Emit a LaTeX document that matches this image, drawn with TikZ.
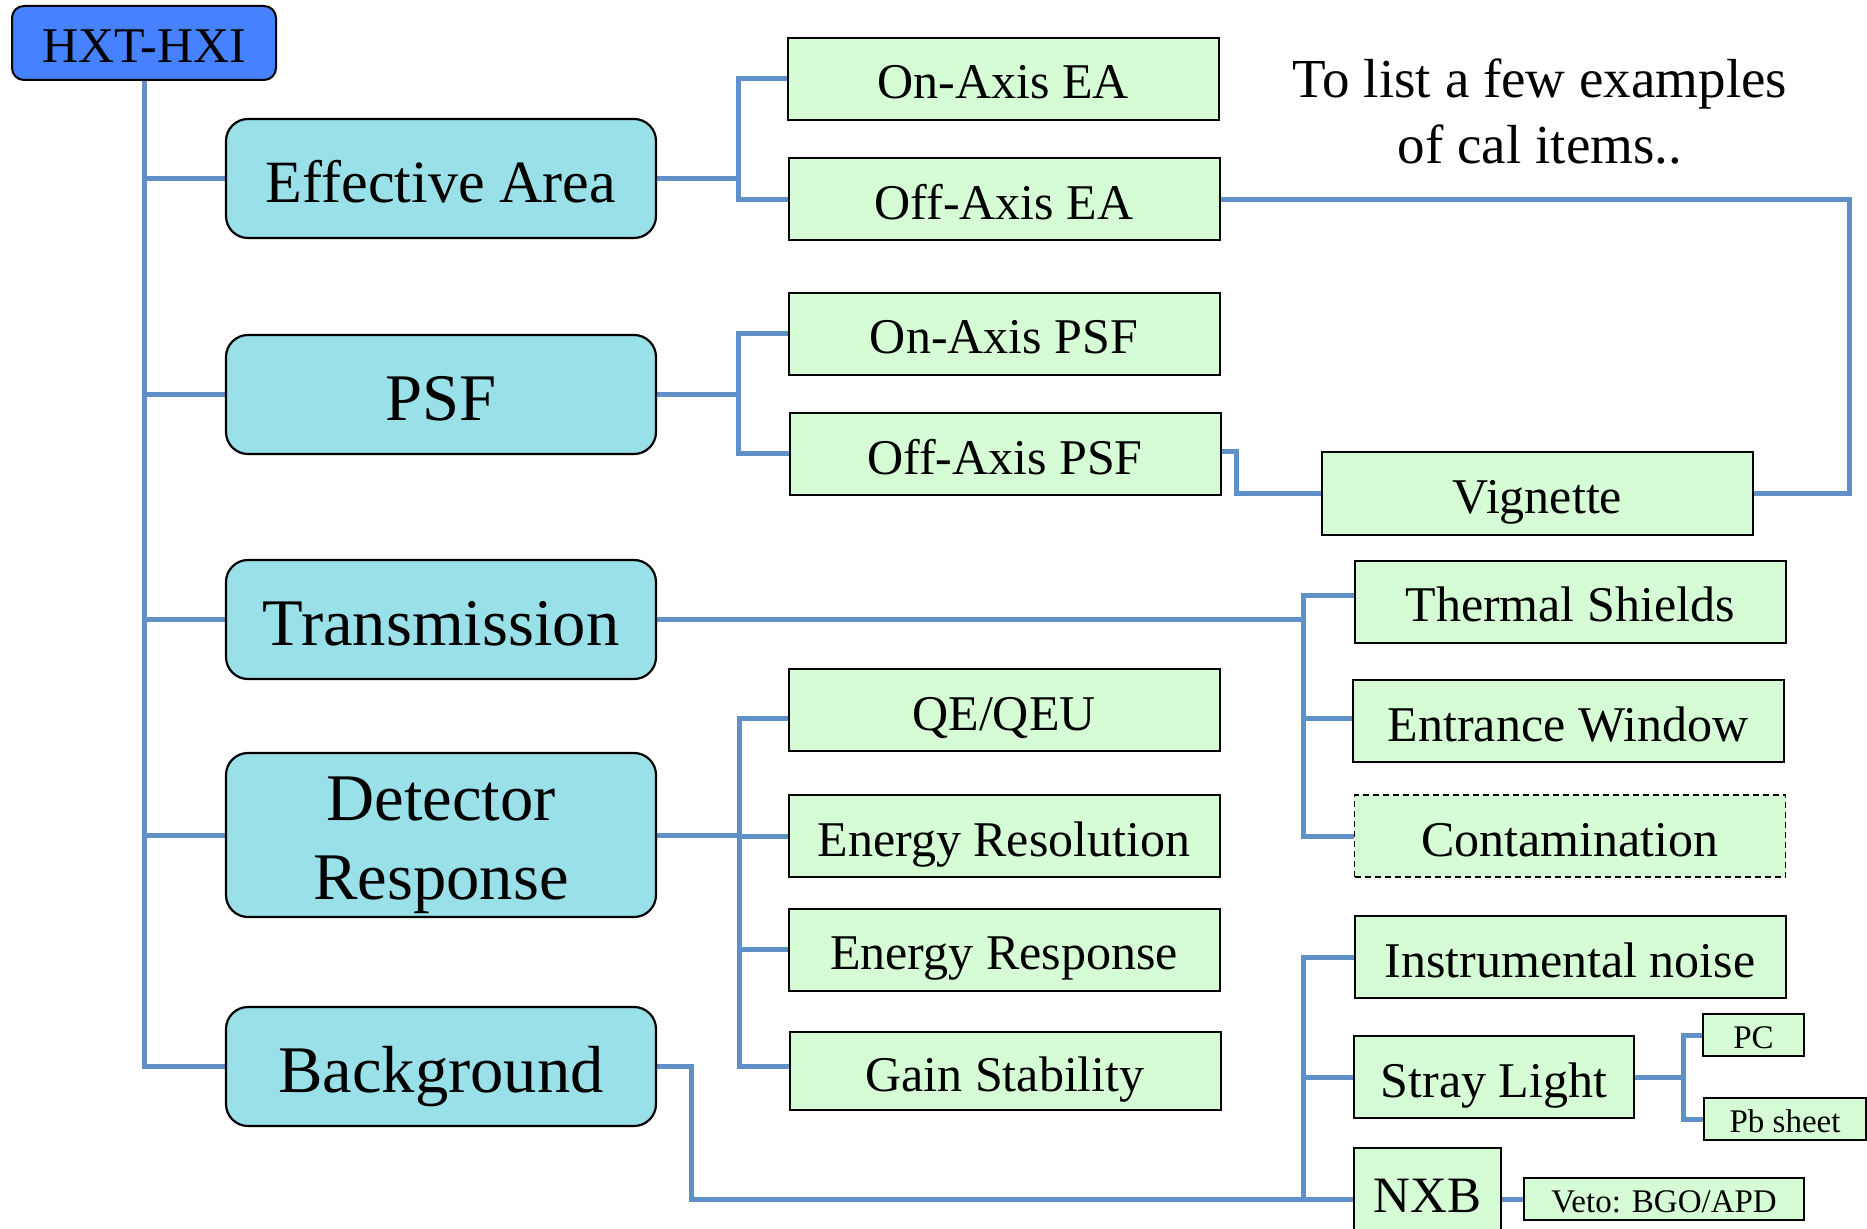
\documentclass[tikz,border=0pt]{standalone}
\usepackage{fontspec}
\setmainfont{Liberation Serif}
\usetikzlibrary{backgrounds}
\definecolor{cyanfill}{RGB}{153,224,232}
\definecolor{greenfill}{RGB}{213,252,213}
\definecolor{hxtblue}{RGB}{70,130,255}
\definecolor{linecol}{RGB}{95,145,200}
\tikzset{
  topbox/.style={draw, fill=hxtblue, rounded corners=6pt, line width=1pt, inner sep=0pt,
    minimum width=132pt, minimum height=37pt, font=\fontsize{25}{29}\selectfont,
    text height=21pt, text depth=1.2pt},
  lonebox/.style={draw, fill=cyanfill, rounded corners=11pt, line width=1.1pt, inner sep=0pt,
    minimum width=215pt, minimum height=59.5pt, font=\fontsize{33.3}{39.5}\selectfont, align=center},
  lonefix/.style={text height=28pt, text depth=1.6pt},
  ltwobox/.style={draw, fill=greenfill, line width=1pt, inner sep=0pt,
    minimum width=215.5pt, minimum height=41pt, font=\fontsize{25}{30}\selectfont,
    text height=21.2pt, text depth=1.2pt},
  smallbox/.style={draw, fill=greenfill, line width=0.9pt, inner sep=0pt,
    minimum height=21pt, font=\fontsize{16.5}{20}\selectfont,
    text height=14pt, text depth=0.8pt},
  conn/.style={draw=linecol, line width=2.5pt},
  notetext/.style={font=\fontsize{27.5}{33}\selectfont, inner sep=0pt, anchor=base}
}
\begin{document}
\begin{tikzpicture}[x=0.5pt,y=-0.5pt]
\useasboundingbox (0,0) rectangle (1867,1229);
\clip (0,0) rectangle (1867,1229);

% top
\node[topbox] (hxt) at (144,43) {HXT-HXI};

% level 1
\node[lonebox,lonefix,font=\fontsize{30}{36}\selectfont,text height=25.3pt,text depth=1.5pt] (ea) at (441,178.5) {Effective Area};
\node[lonebox,lonefix] (psf) at (441,394.5) {PSF};
\node[lonebox,lonefix] (trans) at (441,619.5) {Transmission};
\node[lonebox,minimum height=82pt] (det) at (441,835) {};
\node[inner sep=0pt, font=\fontsize{33.3}{39.5}\selectfont, align=center] (dettext) at ([yshift=-5pt]det.center) {Detector\\Response};
\node[lonebox,lonefix] (bg) at (441,1066.5) {Background};

% level 2
\node[ltwobox] (onea) at (1003,79) {On-Axis EA};
\node[ltwobox] (offea) at (1004,199.5) {Off-Axis EA};
\node[ltwobox] (onpsf) at (1004,334) {On-Axis PSF};
\node[ltwobox] (offpsf) at (1005,454) {Off-Axis PSF};
\node[ltwobox] (qe) at (1004,710) {QE/QEU};
\node[ltwobox] (eres) at (1004,836) {Energy Resolution};
\node[ltwobox] (eresp) at (1004,949.5) {Energy Response};
\node[ltwobox,minimum height=39pt] (gain) at (1005,1071) {Gain Stability};

% level 3
\node[ltwobox] (vig) at (1537.5,493.5) {Vignette};
\node[ltwobox] (therm) at (1570,601.5) {Thermal Shields};
\node[ltwobox] (ent) at (1568,721) {Entrance Window};
\node[ltwobox,densely dashed,line width=0.8pt] (cont) at (1570,836) {Contamination};
\node[ltwobox] (inst) at (1570,957) {Instrumental noise};
\node[ltwobox,minimum width=140pt] (stray) at (1494,1077) {Stray Light};
\node[ltwobox,minimum width=73.5pt,minimum height=51pt,font=\fontsize{25.5}{31}\selectfont,text height=22pt,text depth=8.2pt] (nxb) at (1427.5,1199) {NXB};

% level 4
\node[smallbox,minimum width=50.5pt] (pc) at (1753.5,1035) {PC};
\node[smallbox,minimum width=81pt] (pb) at (1785,1119) {Pb sheet};
\node[smallbox,minimum width=140pt] (veto) at (1664,1199) {Veto: BGO/APD};

% note
\node[notetext] (note1) at (1540,98) {To list a few examples};
\node[notetext] (note2) at (1540,164) {of cal items..};

% helper coordinates
\coordinate (xea) at (738,150);
\coordinate (xpsf) at (738,400);
\coordinate (xdet) at (739,900);
\coordinate (xtr) at (1303,700);
\coordinate (xbg) at (1303,1050);
\coordinate (xst) at (1683,1077);
\coordinate (cvr) at (1849,350);
\coordinate (cvl) at (1236,470);
\coordinate (cbg) at (691,1130);

\begin{scope}[on background layer]
  % trunk
  \draw[conn] (hxt.south) |- (bg.west);
  \draw[conn] (hxt.south |- ea.west) -- (ea.west);
  \draw[conn] (hxt.south |- psf.west) -- (psf.west);
  \draw[conn] (hxt.south |- trans.west) -- (trans.west);
  \draw[conn] (hxt.south |- det.west) -- (det.west);
  % effective area
  \draw[conn] (ea.east) -- (ea.east -| xea);
  \draw[conn] (onea.west) -| (xea) |- (offea.west);
  % psf
  \draw[conn] (psf.east) -- (psf.east -| xpsf);
  \draw[conn] (onpsf.west) -| (xpsf) |- (offpsf.west);
  % vignette
  \draw[conn] (offea.east) -| (cvr) |- (vig.east);
  \draw[conn] ([yshift=1pt]offpsf.east) -| (cvl) |- (vig.west);
  % transmission
  \draw[conn] (trans.east) -- (trans.east -| xtr);
  \draw[conn] ([yshift=3pt]therm.west) -| (xtr) |- (cont.west);
  \draw[conn] ([yshift=1.5pt]ent.west) -- ([yshift=1.5pt]ent.west -| xtr);
  % detector
  \draw[conn] (det.east) -- (det.east -| xdet);
  \draw[conn] ([yshift=-4pt]qe.west) -| (xdet) |- ([yshift=2.5pt]gain.west);
  \draw[conn] (eres.west) -- (eres.west -| xdet);
  \draw[conn] (eresp.west) -- (eresp.west -| xdet);
  % background
  \draw[conn] (bg.east) -| (cbg) |- (nxb.west);
  \draw[conn] (inst.west) -| (xbg) |- (nxb.west);
  \draw[conn] (stray.west) -- (stray.west -| xbg);
  \draw[conn] (stray.east) -- (stray.east -| xst);
  \draw[conn] (pc.west) -| (xst) |- (pb.west);
  \draw[conn] (nxb.east) -- (veto.west);
\end{scope}
\end{tikzpicture}
\end{document}
